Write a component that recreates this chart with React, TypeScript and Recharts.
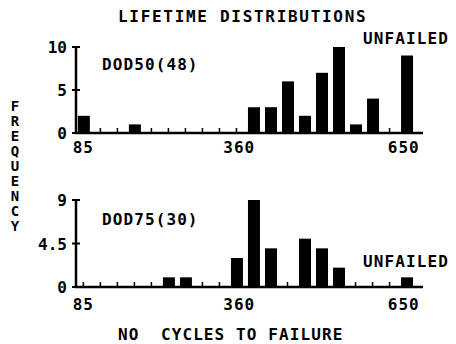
import React from 'react';
import { BarChart, Bar, XAxis, YAxis } from 'recharts';

// centre of each cycle bin; the last bin holds the unfailed cells
const binCenters = [85, 115, 145, 175, 205, 235, 265, 295, 325, 355, 385, 415, 445, 475, 505, 535, 565, 595, 625, 655];
const dod50Counts = [2, 0, 0, 1, 0, 0, 0, 0, 0, 0, 3, 3, 6, 2, 7, 10, 1, 4, 0, 9];
const dod75Counts = [0, 0, 0, 0, 0, 1, 1, 0, 0, 3, 9, 4, 0, 5, 4, 2, 0, 0, 0, 1];
const xTickValues = [85, 360, 650];
const dod50YTicks = [0, 5, 10];
const dod75YTicks = [0, 4.5, 9];
const yLabel = 'FREQUENCY';

const FONT = '"DejaVu Sans Mono", "Liberation Mono", monospace';
const INK = '#000';
const X_DOMAIN = [72, 684];
const CHART_W = 456;
const CHART_H = 160;
const Y_AXIS_W = 76;
const RIGHT = 33;
const PLOT_W = CHART_W - Y_AXIS_W - RIGHT;
const AXIS_T = 2.5;

const panels = [
  { counts: dod50Counts, yTicks: dod50YTicks, top: 0, marginTop: 47, axisHeight: 27, labelGap: 20 },
  { counts: dod75Counts, yTicks: dod75YTicks, top: CHART_H, marginTop: 40, axisHeight: 33, labelGap: 23 },
];

const makeRows = (counts: number[]) => binCenters.map((c, i) => ({ cycles: c, count: counts[i] }));

const XTick = ({ x, y, payload, gap }: any) =>
  xTickValues.includes(payload.value) ? (
    <text x={x} y={y - 1 + gap} textAnchor="middle" fill={INK} fontFamily={FONT} fontSize={16} fontWeight="bold" letterSpacing={1}>
      {payload.value}
    </text>
  ) : null;

const YTick = ({ x, y, payload }: any) => (
  <text x={x + 1 - 9} y={y + 6} textAnchor="end" fill={INK} fontFamily={FONT} fontSize={16} fontWeight="bold">
    {payload.value}
  </text>
);

const Panel = ({ counts, yTicks, marginTop, axisHeight, labelGap }: any) => (
  <BarChart width={CHART_W} height={CHART_H} data={makeRows(counts)} margin={{ top: marginTop, right: RIGHT, bottom: 0, left: 0 }}>
    <XAxis
      dataKey="cycles"
      type="number"
      domain={X_DOMAIN}
      ticks={xTickValues}
      interval={0}
      axisLine={false}
      tickLine={false}
      tickSize={1}
      tickMargin={0}
      height={axisHeight}
      tick={(p: any) => <XTick {...p} gap={labelGap} />}
    />
    <YAxis
      type="number"
      domain={[0, yTicks[yTicks.length - 1]]}
      ticks={yTicks}
      interval={0}
      width={Y_AXIS_W}
      axisLine={false}
      tickLine={false}
      tickSize={1}
      tickMargin={0}
      tick={(p: any) => <YTick {...p} />}
    />
    <Bar dataKey="count" fill={INK} barSize={12} isAnimationActive={false} />
  </BarChart>
);

// axis frame drawn on the overlay, from the same layout as the charts
const AxisFrame = ({ yTicks, top, marginTop, axisHeight }: any) => {
  const plotTop = top + marginTop;
  const plotBottom = top + CHART_H - axisHeight;
  const plotH = plotBottom - plotTop;
  const yMax = yTicks[yTicks.length - 1];
  const k = PLOT_W / (X_DOMAIN[1] - X_DOMAIN[0]);
  return (
    <g fill={INK}>
      <rect x={Y_AXIS_W - AXIS_T / 2} y={plotTop} width={AXIS_T} height={plotH} />
      <rect x={Y_AXIS_W - AXIS_T / 2} y={plotBottom - AXIS_T / 2} width={PLOT_W + AXIS_T / 2} height={AXIS_T} />
      {yTicks.map((v: number) => (
        <rect key={v} x={Y_AXIS_W - 4} y={plotBottom - (v / yMax) * plotH - 1} width={8} height={2} />
      ))}
      {binCenters.map((c) => (
        <rect key={c} x={Y_AXIS_W + (c - X_DOMAIN[0]) * k - 0.75} y={plotBottom - 5} width={1.5} height={5} />
      ))}
    </g>
  );
};

const txt = { fill: INK, fontFamily: FONT, fontSize: 16, fontWeight: 'bold' as const, letterSpacing: 1.1 };

export default function App() {
  return (
    <div style={{ position: 'absolute', left: 0, top: 0, width: 456, height: 344 }}>
      {panels.map((p, i) => (
        <Panel key={i} {...p} />
      ))}
      <svg width={456} height={344} style={{ position: 'absolute', left: 0, top: 0, pointerEvents: 'none' }}>
        {panels.map((p, i) => (
          <AxisFrame key={i} {...p} />
        ))}
        <text x={118} y={22} {...txt} letterSpacing={1.7}>LIFETIME DISTRIBUTIONS</text>
        <text x={363} y={44} {...txt}>UNFAILED</text>
        <text x={102} y={70} {...txt}>DOD50(48)</text>
        <text x={102} y={225} {...txt}>DOD75(30)</text>
        <text x={363} y={267} {...txt}>UNFAILED</text>
        <text x={118} y={340} {...txt} style={{ whiteSpace: 'pre' }}>NO  CYCLES TO FAILURE</text>
        <text {...txt} fontSize={14} letterSpacing={0} textAnchor="middle">
          {yLabel.split('').map((ch, i) => (
            <tspan key={i} x={15} y={111 + i * 15}>{ch}</tspan>
          ))}
        </text>
      </svg>
    </div>
  );
}
